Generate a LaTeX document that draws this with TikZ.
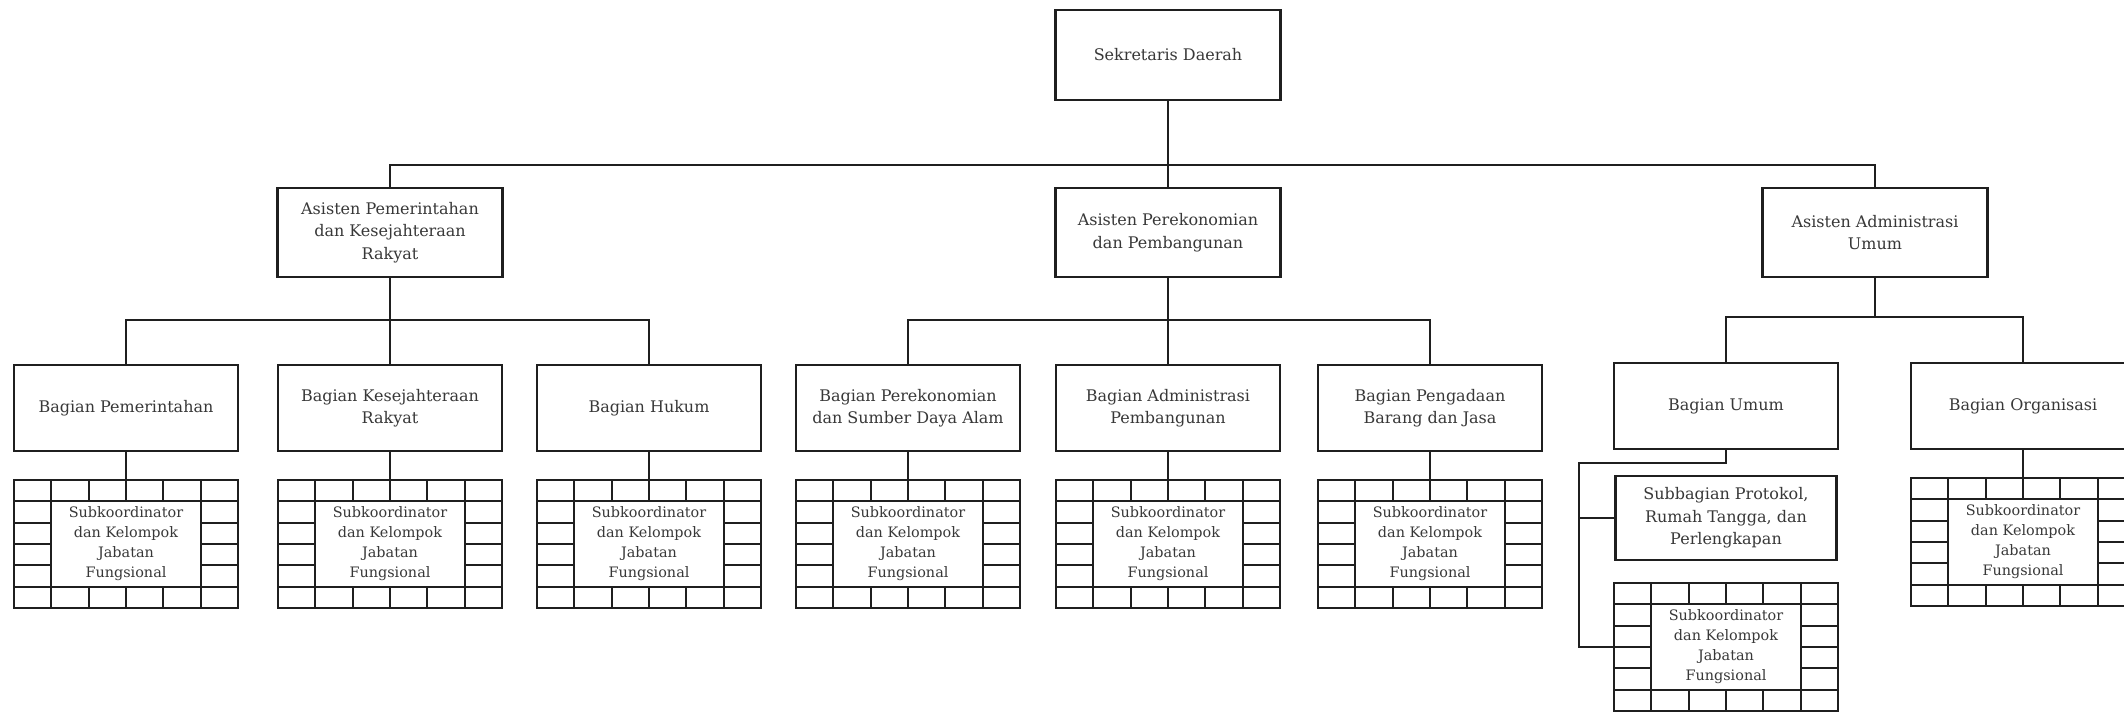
\documentclass[tikz,border=0pt]{standalone}
\usepackage{fontspec}
\setmainfont{DejaVu Serif}
\usetikzlibrary{calc}
\definecolor{ink}{gray}{0.12}
\definecolor{txt}{gray}{0.22}
% 6x6 cell frame around a group node: full top/bottom rows and side columns
\newcommand\cellframe[1]{%
  \foreach \k in {1,2,3,4,5} {
    \draw[gridline] ($(#1.north west)+(\k*37.333,0)$) -- ++(0,-21.333);
    \draw[gridline] ($(#1.south west)+(\k*37.333,0)$) -- ++(0,21.333);
    \draw[gridline] ($(#1.north west)+(0,-\k*21.333)$) -- ++(37.333,0);
    \draw[gridline] ($(#1.north east)+(0,-\k*21.333)$) -- ++(-37.333,0);
  }
  \draw[gridline] ($(#1.north west)+(37.333,-21.333)$) rectangle ($(#1.south east)+(-37.333,21.333)$);
}
\begin{document}
\begin{tikzpicture}[x=0.02cm,y=0.02cm,
  box/.style={draw=ink, line width=1.6pt, fill=white, inner sep=0pt, outer sep=0pt,
              align=center, text=txt, font=\fontsize{9.1}{12.8}\selectfont},
  topbox/.style={box, minimum width=4.5cm, minimum height=1.8cm},
  asbox/.style={box, minimum width=4.5cm, minimum height=1.78cm},
  bgbox/.style={box, minimum width=4.48cm, minimum height=1.72cm},
  subbox/.style={box, minimum width=4.42cm, minimum height=1.68cm},
  groupbox/.style={box, minimum width=4.48cm, minimum height=2.56cm,
              font=\fontsize{8.2}{11.4}\selectfont},
  gridline/.style={draw=ink, line width=1.1pt},
  conn/.style={draw=ink, line width=1.3pt}]
\path[use as bounding box] (0,0) rectangle (2124,715);
\fill[white] (0,0) rectangle (2124,715);
\clip (0,0) rectangle (2124,715);

% top level
\node[topbox] (sekda) at (1168,660) {Sekretaris Daerah};

% assistants
\node[asbox] (as1) at (390,482.5) {Asisten Pemerintahan\\dan Kesejahteraan\\Rakyat};
\node[asbox] (as2) at (1168,482.5) {Asisten Perekonomian\\dan Pembangunan};
\node[asbox] (as3) at (1875,482.5) {Asisten Administrasi\\Umum};

% sections
\node[bgbox] (b1) at (126,307) {Bagian Pemerintahan};
\node[bgbox] (b2) at (390,307) {Bagian Kesejahteraan\\Rakyat};
\node[bgbox] (b3) at (649,307) {Bagian Hukum};
\node[bgbox] (b4) at (908,307) {Bagian Perekonomian\\dan Sumber Daya Alam};
\node[bgbox] (b5) at (1168,307) {Bagian Administrasi\\Pembangunan};
\node[bgbox] (b6) at (1430,307) {Bagian Pengadaan\\Barang dan Jasa};
\node[bgbox] (b7) at (1726,309) {Bagian Umum};
\node[bgbox] (b8) at (2023,309) {Bagian Organisasi};

% sub-section under Bagian Umum
\node[subbox] (sub) at (1726,197) {Subbagian Protokol,\\Rumah Tangga, dan\\Perlengkapan};

% functional groups
\foreach \n/\x/\y in {g1/126/171, g2/390/171, g3/649/171, g4/908/171,
                      g5/1168/171, g6/1430/171, g7/1726/68, g8/2023/173} {
  \node[groupbox] (\n) at (\x,\y) {Subkoordinator\\dan Kelompok\\Jabatan\\Fungsional};
  \cellframe{\n}
}

% connectors: top level to assistants
\coordinate (bus1) at (0,550);
\draw[conn] (sekda.south) -- (as2.north);
\draw[conn] (as1.north) -- (as1.north |- bus1) -- (as3.north |- bus1) -- (as3.north);

% assistants to sections
\coordinate (bus2) at (0,395);
\draw[conn] (as1.south) -- (b2.north);
\draw[conn] (b1.north) -- (b1.north |- bus2) -- (b3.north |- bus2) -- (b3.north);
\draw[conn] (as2.south) -- (b5.north);
\draw[conn] (b4.north) -- (b4.north |- bus2) -- (b6.north |- bus2) -- (b6.north);
\coordinate (bus3) at (0,398);
\draw[conn] (as3.south) -- (as3.south |- bus3);
\draw[conn] (b7.north) -- (b7.north |- bus3) -- (b8.north |- bus3) -- (b8.north);

% sections to functional groups
\foreach \i in {1,2,3,4,5,6,8} {
  \draw[conn] (b\i.south) -- (g\i.north);
}

% Bagian Umum branch
\coordinate (elbow) at (1579,252);
\draw[conn] (b7.south) |- (elbow) -- (elbow |- g7.west) -- (g7.west);
\draw[conn] (elbow |- sub.west) -- (sub.west);
\end{tikzpicture}
\end{document}
